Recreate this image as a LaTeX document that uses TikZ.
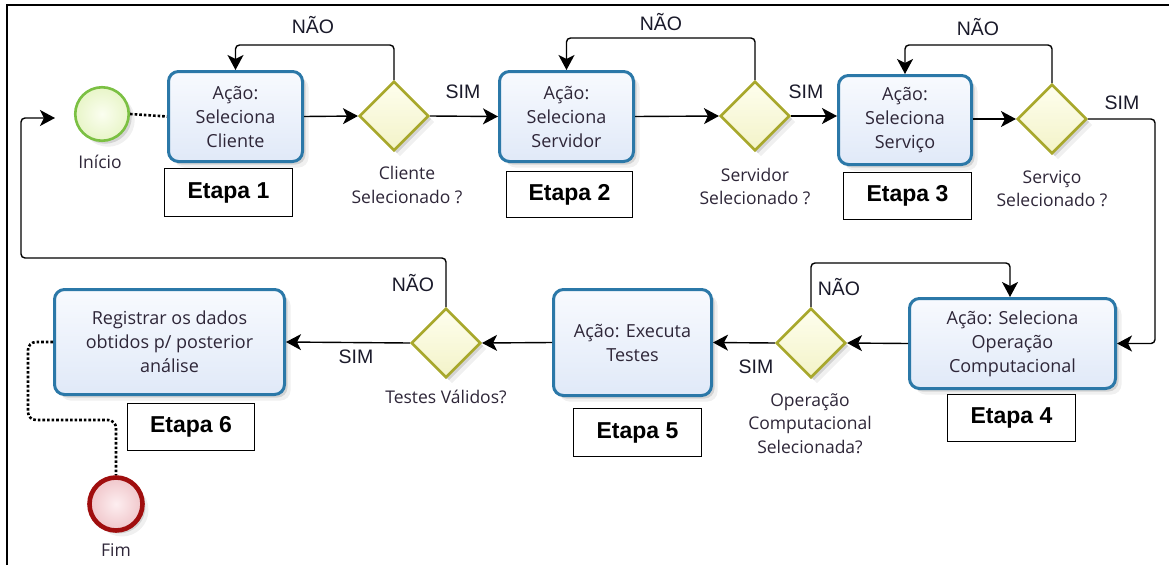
\documentclass[tikz,border=0pt]{standalone}
\usepackage{fontspec}
\setmainfont{Open Sans}
\newfontfamily\arialfont{Liberation Sans}
\usetikzlibrary{shapes.geometric,arrows.meta,shadows,calc}

\definecolor{boxline}{HTML}{2B78A8}
\definecolor{boxtop}{HTML}{F8FAFE}
\definecolor{boxbot}{HTML}{E0E9F8}
\definecolor{gateline}{HTML}{A8A82C}
\definecolor{gatetop}{HTML}{FEFEEE}
\definecolor{gatebot}{HTML}{F3F3C8}
\definecolor{startline}{HTML}{7BC043}
\definecolor{startin}{HTML}{FBFEF0}
\definecolor{startout}{HTML}{E8F5C8}
\definecolor{endline}{HTML}{A00E0E}
\definecolor{endin}{HTML}{FDEEF0}
\definecolor{endout}{HTML}{F0C6CA}
\definecolor{labeltext}{HTML}{2E2638}
\definecolor{flowtext}{HTML}{1A1A2A}

\tikzset{
  softshadow/.style={
    drop shadow={shadow xshift=3pt,shadow yshift=-3pt,opacity=.12,fill=black},
    drop shadow={shadow xshift=6pt,shadow yshift=-6pt,opacity=.06,fill=black}},
  action/.style={rectangle, rounded corners=10pt, draw=boxline, line width=3pt,
    top color=boxtop, bottom color=boxbot, softshadow, align=center,
    inner sep=0pt, text=labeltext, font=\fontsize{18}{24}\selectfont},
  gate/.style={diamond, aspect=1, inner sep=0pt, minimum size=69.5pt,
    draw=gateline, line width=2.6pt, top color=gatetop, bottom color=gatebot, softshadow},
  stage/.style={rectangle, draw=black, line width=1.3pt, fill=white, inner sep=0pt,
    font=\arialfont\bfseries\fontsize{23}{27}\selectfont},
  caption/.style={align=center, text=labeltext, inner sep=0pt,
    font=\fontsize{17.5}{23.5}\selectfont},
  answer/.style={inner sep=0pt, text=flowtext, font=\arialfont\fontsize{19.5}{22}\selectfont},
  flow/.style={line width=1.4pt, rounded corners=4pt,
    -{Stealth[length=15pt,width=16pt,inset=4pt]}},
  dots/.style={line width=2.6pt, dash pattern=on 2.6pt off 2pt, rounded corners=8pt},
}

\begin{document}
\begin{tikzpicture}[x=1pt,y=-1pt]
\useasboundingbox (0,0) rectangle (1169,565);

% frame
\draw[line width=1.4pt] (7,565) -- (7,5) -- (1169,5);

% events
\node[circle, minimum size=53.5pt, inner sep=0pt, draw=startline, line width=2.6pt,
      inner color=startin, outer color=startout, softshadow] (start) at (102,114) {};
\node[circle, minimum size=53pt, inner sep=0pt, draw=endline, line width=4.6pt,
      inner color=endin, outer color=endout, softshadow] (end) at (116,504) {};
\node[caption] (lstart) at (100,162) {Início};
\node[caption] (lend) at (116,550) {Fim};

% activities
\node[action, minimum width=134pt, minimum height=90pt] (a1) at (235.5,116.5) {Ação:\\Seleciona\\Cliente};
\node[action, minimum width=134pt, minimum height=90pt] (a2) at (566.5,116.5) {Ação:\\Seleciona\\Servidor};
\node[action, minimum width=133pt, minimum height=89pt] (a3) at (905,120) {Ação:\\Seleciona\\Serviço};
\node[action, minimum width=206pt, minimum height=90pt] (a4) at (1012.5,343.5) {Ação: Seleciona\\Operação\\Computacional};
\node[action, minimum width=158pt, minimum height=106pt] (a5) at (632.5,342.5) {Ação: Executa\\Testes};
\node[action, minimum width=230pt, minimum height=105pt] (a6) at (169.5,342) {Registrar os dados\\obtidos p/ posterior\\análise};

% gateways
\node[gate] (d1) at (394,116) {};
\node[gate] (d2) at (755,116) {};
\node[gate] (d3) at (1052,119) {};
\node[gate] (d4) at (811,343) {};
\node[gate] (d5) at (446,343) {};

\node[caption] (q1) at (407,185) {Cliente\\Selecionado ?};
\node[caption] (q2) at (755,186.5) {Servidor\\Selecionado ?};
\node[caption] (q3) at (1052,188.5) {Serviço\\Selecionado ?};
\node[caption] (q4) at (810,423.5) {Operação\\Computacional\\Selecionada?};
\node[caption] (q5) at (446,397) {Testes Válidos?};

% stage tags
\node[stage, minimum width=128pt, minimum height=48pt] (e1) at (228.5,192.5) {Etapa 1};
\node[stage, minimum width=126pt, minimum height=46pt] (e2) at (569.5,194.5) {Etapa 2};
\node[stage, minimum width=128pt, minimum height=47pt] (e3) at (907.5,196) {Etapa 3};
\node[stage, minimum width=128pt, minimum height=47pt] (e4) at (1011.5,418) {Etapa 4};
\node[stage, minimum width=128pt, minimum height=48pt] (e5) at (637.5,432.5) {Etapa 5};
\node[stage, minimum width=127pt, minimum height=47pt] (e6) at (191,427) {Etapa 6};

% answers
\node[answer] (n1) at (313,25) {NÃO};
\node[answer] (n2) at (661,22) {NÃO};
\node[answer] (n3) at (978,27) {NÃO};
\node[answer] (n4) at (839,287) {NÃO};
\node[answer] (n5) at (413,283) {NÃO};
\node[answer] (s1) at (463,92) {SIM};
\node[answer] (s2) at (806,92) {SIM};
\node[answer] (s3) at (1122,103) {SIM};
\node[answer] (s4) at (756,367) {SIM};
\node[answer] (s5) at (356,357) {SIM};

% helper points for the long return paths
\coordinate (rturn) at (1155,0);
\coordinate (loopleft) at (21,258);
\coordinate (loopend) at (55,118);
\coordinate (dotleft) at (28,420);

% sequence flows
\draw[dots] (start.east) -- (a1.west);
\draw[flow] (a1.east) -- (d1.west);
\draw[flow] (d1.north) -- (d1.north |- 0,45) -| (a1.north);
\draw[flow] (d1.east) -- (a2.west);
\draw[flow] (a2.east) -- (d2.west);
\draw[flow] (d2.north) -- (d2.north |- 0,38) -| (a2.north);
\draw[flow] (d2.east) -- (d2.east -| a3.west);
\draw[flow] (a3.east |- d3.west) -- (d3.west);
\draw[flow] (d3.north) -- (d3.north |- 0,45) -| (a3.north);
\draw[flow] (d3.east) -- (d3.east -| rturn) -- (rturn |- a4.east) -- (a4.east);
\draw[flow] (a4.west) -- (d4.east);
\draw[flow] (d4.north) -- (d4.north |- 0,263) -| ([xshift=-2.5pt]a4.north);
\draw[flow] (d4.west) -- (a5.east);
\draw[flow] (a5.west) -- (d5.east);
\draw[flow] (d5.north) |- (loopleft) |- (loopend);
\draw[flow] (d5.west) -- (a6.east);
\draw[dots] (a6.west) -| (dotleft) -| (end.north);
\end{tikzpicture}
\end{document}
